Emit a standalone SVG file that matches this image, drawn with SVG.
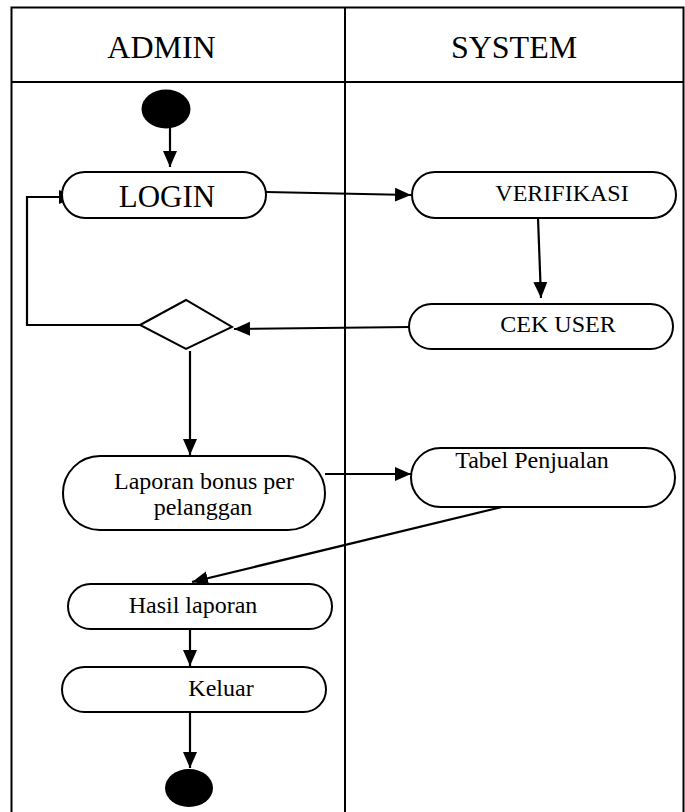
<svg xmlns="http://www.w3.org/2000/svg" width="685" height="812" viewBox="0 0 685 812">
  <style>
    .lane { fill: none; stroke: #000; stroke-width: 2; }
    .act { fill: #fff; stroke: #000; stroke-width: 2; }
    .dot { fill: #000; }
    .flow { fill: none; stroke: #000; stroke-width: 2.2; }
    text { font-family: "Liberation Serif", "Times New Roman", serif; fill: #000; text-anchor: middle; }
    .hd { font-size: 32px; }
    .big { font-size: 31px; }
    .lbl { font-size: 24px; }
  </style>
  <defs>
    <marker id="arrow" markerUnits="userSpaceOnUse" markerWidth="17" markerHeight="15" refX="16" refY="7" orient="auto">
      <path d="M0,0 L16,7 L0,14 z" fill="#000"/>
    </marker>
  </defs>

  <!-- swimlane frame -->
  <g id="lanes">
    <rect class="lane" x="11.5" y="7.5" width="672" height="810"/>
    <line class="lane" x1="11.5" y1="82" x2="683.5" y2="82"/>
    <line class="lane" x1="345" y1="7.5" x2="345" y2="815"/>
    <text class="hd" x="161.5" y="58">ADMIN</text>
    <text class="hd" x="514" y="58">SYSTEM</text>
  </g>

  <!-- connectors -->
  <g id="connectors">
    <line class="flow" x1="170" y1="128" x2="170" y2="167" marker-end="url(#arrow)"/>
    <line class="flow" x1="266" y1="192" x2="411" y2="195" marker-end="url(#arrow)"/>
    <line class="flow" x1="538" y1="218" x2="541" y2="298" marker-end="url(#arrow)"/>
    <line class="flow" x1="410" y1="327" x2="234" y2="329" marker-end="url(#arrow)"/>
    <polyline class="flow" points="140,325 27,325 27,197 75,197" marker-end="url(#arrow)"/>
    <line class="flow" x1="190" y1="351" x2="190" y2="455" marker-end="url(#arrow)"/>
    <line class="flow" x1="325" y1="474" x2="411" y2="474" marker-end="url(#arrow)"/>
    <line class="flow" x1="502" y1="507" x2="192" y2="582" marker-end="url(#arrow)"/>
    <line class="flow" x1="190" y1="629" x2="190" y2="666" marker-end="url(#arrow)"/>
    <line class="flow" x1="190" y1="712" x2="190" y2="768" marker-end="url(#arrow)"/>
  </g>

  <g id="start">
    <ellipse class="dot" cx="166" cy="109" rx="24.5" ry="19.5"/>
  </g>

  <g id="login">
    <rect class="act" x="62" y="172" width="204" height="46" rx="23"/>
    <text class="big" x="167" y="207">LOGIN</text>
  </g>

  <g id="verifikasi">
    <rect class="act" x="412" y="172" width="264" height="46" rx="23"/>
    <text class="lbl" x="562" y="201">VERIFIKASI</text>
  </g>

  <g id="cek-user">
    <rect class="act" x="409" y="304" width="264" height="45" rx="22.5"/>
    <text class="lbl" x="558" y="332">CEK USER</text>
  </g>

  <g id="decision">
    <polygon class="act" points="140,325 186,300 232,327 186,349"/>
  </g>

  <g id="laporan">
    <rect class="act" x="63" y="456" width="262" height="74" rx="37"/>
    <text class="lbl" x="204" y="489">Laporan bonus per</text>
    <text class="lbl" x="203" y="515">pelanggan</text>
  </g>

  <g id="tabel-penjualan">
    <rect class="act" x="411" y="448" width="264" height="59" rx="29.5"/>
    <text class="lbl" x="532" y="468">Tabel Penjualan</text>
  </g>

  <g id="hasil-laporan">
    <rect class="act" x="68" y="584" width="264" height="45" rx="22.5"/>
    <text class="lbl" x="193" y="613">Hasil laporan</text>
  </g>

  <g id="keluar">
    <rect class="act" x="62" y="667" width="264" height="45" rx="22.5"/>
    <text class="lbl" x="221" y="696">Keluar</text>
  </g>

  <g id="end">
    <ellipse class="dot" cx="189" cy="788" rx="24" ry="19"/>
  </g>
</svg>
